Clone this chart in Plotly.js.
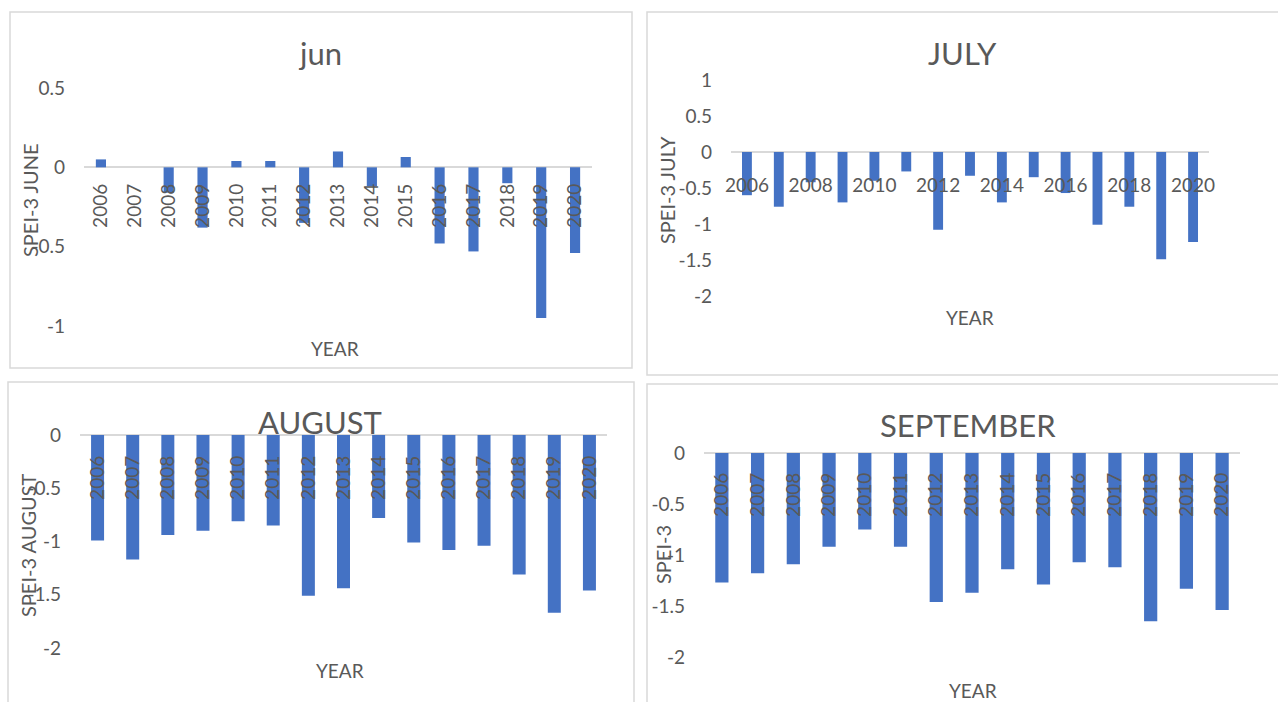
<!DOCTYPE html>
<html>
<head>
<meta charset="utf-8">
<script src="https://cdn.plot.ly/plotly-3.0.1.min.js"></script>
<style>html,body{margin:0;padding:0;background:#fff;}#chart{width:1278px;height:702px;}</style>
</head>
<body>
<div id="chart"></div>
<script>
// ---- data ----
const years = ['2006','2007','2008','2009','2010','2011','2012','2013','2014','2015','2016','2017','2018','2019','2020'];
const juneSPEI = [0.05, 0.0, -0.16, -0.38, 0.04, 0.04, -0.35, 0.10, -0.12, 0.065, -0.48, -0.53, -0.10, -0.95, -0.54];
const julySPEI = [-0.60, -0.76, -0.42, -0.70, -0.40, -0.27, -1.08, -0.33, -0.70, -0.35, -0.57, -1.01, -0.76, -1.49, -1.25];
const augustSPEI = [-0.99, -1.17, -0.94, -0.90, -0.81, -0.85, -1.51, -1.44, -0.78, -1.01, -1.08, -1.04, -1.31, -1.67, -1.46];
const septemberSPEI = [-1.27, -1.18, -1.09, -0.92, -0.75, -0.92, -1.46, -1.37, -1.14, -1.29, -1.07, -1.12, -1.65, -1.33, -1.54];
const julyTickYears = ['2006','2008','2010','2012','2014','2016','2018','2020'];
const juneYTicks = [0.5, 0, -0.5, -1];
const julyYTicks = [1, 0.5, 0, -0.5, -1, -1.5, -2];
const augustYTicks = [0, -0.5, -1, -1.5, -2];
const septemberYTicks = [0, -0.5, -1, -1.5, -2];
const panelTitles = ['jun', 'JULY', 'AUGUST', 'SEPTEMBER'];
const yTitles = ['SPEI-3 JUNE', 'SPEI-3 JULY', 'SPEI-3 AUGUST', 'SPEI-3'];
const xTitle = 'YEAR';

// ---- layout helpers ----
const W = 1278, H = 702;
const fx = px => px / W;
const fy = py => 1 - py / H;
const TXT = '#595959';
const FONT = 'Lato, "Open Sans", sans-serif';
const BAR = '#4472C4';

const traces = [
  {x: years, y: juneSPEI, type: 'bar', xaxis: 'x', yaxis: 'y', marker: {color: BAR}, width: 0.3},
  {x: years, y: julySPEI, type: 'bar', xaxis: 'x2', yaxis: 'y2', marker: {color: BAR}, width: 0.31},
  {x: years, y: augustSPEI, type: 'bar', xaxis: 'x3', yaxis: 'y3', marker: {color: BAR}, width: 0.37},
  {x: years, y: septemberSPEI, type: 'bar', xaxis: 'x4', yaxis: 'y4', marker: {color: BAR}, width: 0.37}
];

function xax(x0, x1, posPy, angle, tickvals) {
  const a = {
    type: 'category', domain: [fx(x0), fx(x1)], anchor: 'free', position: fy(posPy),
    showgrid: false, zeroline: false, showline: false,
    ticks: '', tickangle: angle, tickfont: {family: FONT, size: 19, color: TXT},
    fixedrange: true
  };
  if (tickvals) { a.tickmode = 'array'; a.tickvals = tickvals; a.ticktext = tickvals; }
  return a;
}
function yax(y0, y1, range, xname, tickvals) {
  return {
    domain: [fy(y1), fy(y0)], range: range, anchor: xname,
    tickmode: 'array', tickvals: tickvals, ticktext: tickvals.map(v => String(v)),
    showgrid: false, zeroline: true, zerolinecolor: '#d9d9d9', zerolinewidth: 2,
    showline: false, ticks: '', ticklabelstandoff: 18,
    tickfont: {family: FONT, size: 19, color: TXT}, fixedrange: true
  };
}

const borders = [[10, 12, 632, 368], [647, 12, 1290, 375], [8, 382, 634, 720], [647, 384, 1290, 720]];

const layout = {
  width: W, height: H, margin: {l: 0, r: 0, t: 0, b: 0},
  paper_bgcolor: '#fff', plot_bgcolor: 'rgba(0,0,0,0)', showlegend: false,
  font: {family: FONT, color: TXT},
  xaxis: xax(84, 592, 179, -90),
  yaxis: yax(88, 326, [-1, 0.5], 'x', juneYTicks),
  xaxis2: xax(731, 1209, 172, 0, julyTickYears),
  yaxis2: yax(80, 296, [-2, 1], 'x2', julyYTicks),
  xaxis3: xax(80, 607, 451, -90),
  yaxis3: yax(435, 648, [-2, 0], 'x3', augustYTicks),
  xaxis4: xax(704, 1240, 468, -90),
  yaxis4: yax(453, 657, [-2, 0], 'x4', septemberYTicks),
  shapes: borders.map(b => ({type: 'rect', xref: 'paper', yref: 'paper', x0: fx(b[0]), y0: fy(b[1]), x1: fx(b[2]), y1: fy(b[3]),
              line: {color: '#d9d9d9', width: 1.5}, fillcolor: 'rgba(0,0,0,0)', layer: 'below'})),
  annotations: []
};

const titlePos = [[320, 53], [962, 53], [320, 422], [968, 425]];
const yTitlePos = [[30, 200], [667, 190], [28, 545], [663, 555]];
const xTitlePos = [[335, 348], [970, 318], [340, 670], [973, 690]];
for (let i = 0; i < 4; i++) {
  layout.annotations.push({text: panelTitles[i], xref: 'paper', yref: 'paper', x: fx(titlePos[i][0]), y: fy(titlePos[i][1]),
    showarrow: false, xanchor: 'center', yanchor: 'middle', font: {family: FONT, size: 31, color: TXT}});
  layout.annotations.push({text: yTitles[i], xref: 'paper', yref: 'paper', x: fx(yTitlePos[i][0]), y: fy(yTitlePos[i][1]),
    showarrow: false, textangle: -90, xanchor: 'center', yanchor: 'middle', font: {family: FONT, size: 20, color: TXT}});
  layout.annotations.push({text: xTitle, xref: 'paper', yref: 'paper', x: fx(xTitlePos[i][0]), y: fy(xTitlePos[i][1]),
    showarrow: false, xanchor: 'center', yanchor: 'middle', font: {family: FONT, size: 19, color: TXT}});
}

Plotly.newPlot('chart', traces, layout, {displayModeBar: false, staticPlot: true});
</script>
</body>
</html>
